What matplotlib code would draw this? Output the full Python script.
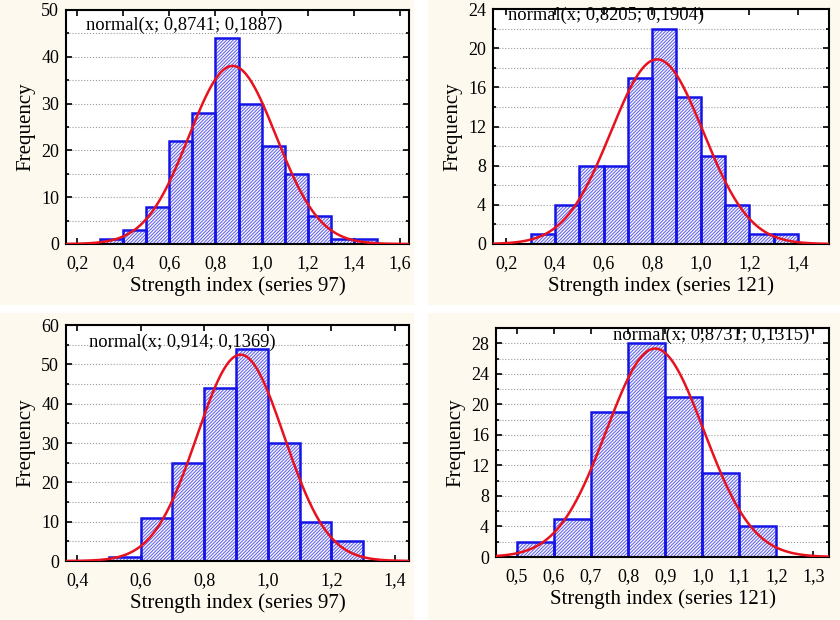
import numpy as np
import matplotlib
matplotlib.use("Agg")
import matplotlib.pyplot as plt
from matplotlib.ticker import MultipleLocator, FuncFormatter
from matplotlib.patches import Rectangle

plt.rcParams['font.family'] = ['Liberation Serif', 'DejaVu Serif']
plt.rcParams['hatch.linewidth'] = 0.7

# histogram data: left bin edges and frequencies (bin width 0.1)
bins_tl = [0.3, 0.4, 0.5, 0.6, 0.7, 0.8, 0.9, 1.0, 1.1, 1.2, 1.3, 1.4]
freq_tl = [1, 3, 8, 22, 28, 44, 30, 21, 15, 6, 1, 1]
bins_tr = [0.3, 0.4, 0.5, 0.6, 0.7, 0.8, 0.9, 1.0, 1.1, 1.2, 1.3]
freq_tr = [1, 4, 8, 8, 17, 22, 15, 9, 4, 1, 1]
bins_bl = [0.5, 0.6, 0.7, 0.8, 0.9, 1.0, 1.1, 1.2]
freq_bl = [1, 11, 25, 44, 54, 30, 10, 5]
bins_br = [0.5, 0.6, 0.7, 0.8, 0.9, 1.0, 1.1]
freq_br = [2, 5, 19, 28, 21, 11, 4]

# fitted normal parameters (mean, sd)
fit_tl = (0.8741, 0.1887)
fit_tr = (0.8205, 0.1904)
fit_bl = (0.914, 0.1369)
fit_br = (0.8731, 0.1315)

labels = ["Strength index (series 97)", "Strength index (series 121)",
          "Strength index (series 97)", "Strength index (series 121)"]
fit_text = ["normal(x; 0,8741; 0,1887)", "normal(x; 0,8205; 0,1904)",
            "normal(x; 0,914; 0,1369)", "normal(x; 0,8731; 0,1315)"]

W, H = 840, 620
fig = plt.figure(figsize=(8.4, 6.2), dpi=100, facecolor='white')

# cream panel backgrounds (pixel boxes: x0, y0, x1, y1)
cream = '#fdf9ee'
for x0, y0, x1, y1 in [(0, 0, 414, 305), (428, 0, 840, 305),
                       (0, 313, 414, 620), (428, 313, 840, 620)]:
    fig.patches.append(Rectangle((x0 / W, 1 - y1 / H), (x1 - x0) / W, (y1 - y0) / H,
                                 transform=fig.transFigure, facecolor=cream,
                                 edgecolor='none', zorder=-10))


def px_axes(l, t, r, b):
    return fig.add_axes([l / W, 1 - b / H, (r - l) / W, (b - t) / H])


panels = [
    dict(box=(66, 10, 409, 244), bins=bins_tl, freq=freq_tl, fit=fit_tl,
         xlim=(0.152, 1.639), xmajor=0.2, ylim=(0, 50), ymajor=10, txt=(0.058, 0.936)),
    dict(box=(493, 9, 829, 244), bins=bins_tr, freq=freq_tr, fit=fit_tr,
         xlim=(0.145, 1.528), xmajor=0.2, ylim=(0, 24), ymajor=4, txt=(0.045, 0.972)),
    dict(box=(66, 325, 409, 561), bins=bins_bl, freq=freq_bl, fit=fit_bl,
         xlim=(0.365, 1.444), xmajor=0.2, ylim=(0, 60), ymajor=10, txt=(0.067, 0.928)),
    dict(box=(496, 328, 829, 557), bins=bins_br, freq=freq_br, fit=fit_br,
         xlim=(0.444, 1.342), xmajor=0.1, ylim=(0, 30), ymajor=4, txt=(0.351, 0.969)),
]

comma = FuncFormatter(lambda v, p: f"{v:.1f}".replace('.', ','))

for i, p in enumerate(panels):
    ax = px_axes(*p['box'])
    ax.set_facecolor('white')
    # hatch layer (lighter lines), then solid outline
    ax.bar(p['bins'], p['freq'], width=0.1, align='edge', facecolor='#f6f6ff',
           edgecolor='#5c5cec', hatch='//////////', linewidth=0, zorder=2)
    ax.bar(p['bins'], p['freq'], width=0.1, align='edge', fill=False,
           edgecolor='#1414e6', linewidth=1.8, zorder=2.5)
    mu, sd = p['fit']
    n = sum(p['freq'])
    xs = np.linspace(p['xlim'][0], p['xlim'][1], 400)
    ys = n * 0.1 * np.exp(-0.5 * ((xs - mu) / sd) ** 2) / (sd * np.sqrt(2 * np.pi))
    ax.plot(xs, ys, color='#e8121e', lw=1.8, zorder=3)

    ax.set_xlim(*p['xlim'])
    ax.set_ylim(*p['ylim'])
    ax.xaxis.set_major_locator(MultipleLocator(p['xmajor']))
    ax.xaxis.set_major_formatter(comma)
    ax.yaxis.set_major_locator(MultipleLocator(p['ymajor']))
    ax.yaxis.set_minor_locator(MultipleLocator(p['ymajor'] / 2))
    ax.grid(which='both', axis='y', ls=':', color='#9a9a9a', lw=0.8, zorder=0)
    ax.set_axisbelow(True)
    ax.tick_params(which='both', direction='in', top=True, right=True,
                   labelsize=13, length=4, width=1.2)
    ax.tick_params(axis='x', pad=8)
    ax.tick_params(axis='y', pad=5)
    ax.tick_params(which='minor', length=2.5)
    for s in ax.spines.values():
        s.set_linewidth(1.5)
    ax.set_xlabel(labels[i], fontsize=15, labelpad=3)
    ax.set_ylabel("Frequency", fontsize=15, labelpad=4)
    ax.text(p['txt'][0], p['txt'][1], fit_text[i], transform=ax.transAxes,
            fontsize=13.3, va='center', ha='left', zorder=4)

fig.savefig("out.png", dpi=100, facecolor=fig.get_facecolor())
